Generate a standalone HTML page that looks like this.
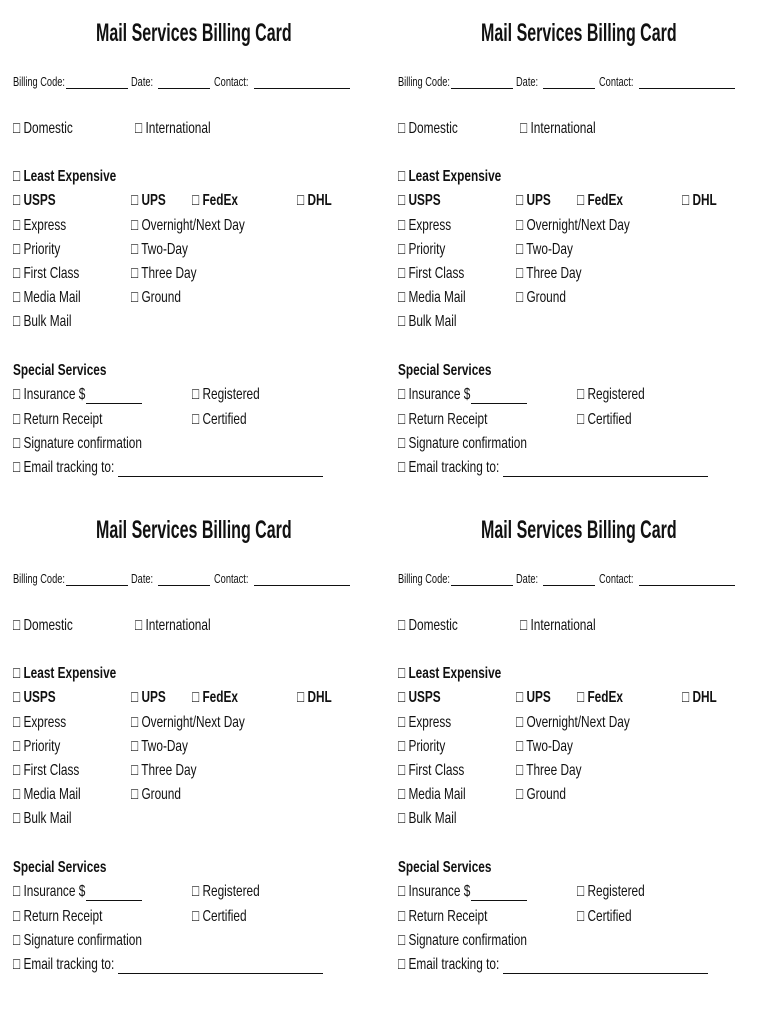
<!DOCTYPE html>
<html><head><meta charset="utf-8"><style>
body{margin:0;background:#fff;width:770px;height:1024px;overflow:hidden;position:relative;font-family:"Liberation Sans",sans-serif;color:#111}
.c{position:absolute;width:385px;height:497px}
.t{position:absolute;white-space:nowrap;font-size:16px;line-height:18px;transform:scaleX(0.74);transform-origin:0 0;margin-top:2px}
.b{font-weight:bold}
.h{font-size:25px;line-height:28px;font-weight:bold;transform:scaleX(0.64);margin-top:0}
.s{font-size:12.5px;line-height:14px;margin-top:1px}
.u{position:absolute;height:0;border-top:1px solid #111}
</style></head><body>
<div class="c" style="left:0;top:0">
<div class="t h" style="left:96px;top:19px">Mail Services Billing Card</div>
<div class="t s" style="left:13px;top:74px">Billing Code:</div><div class="u" style="left:66px;width:62px;top:88px"></div>
<div class="t s" style="left:131px;top:74px">Date:</div><div class="u" style="left:158px;width:52px;top:88px"></div>
<div class="t s" style="left:214px;top:74px">Contact:</div><div class="u" style="left:254px;width:96px;top:88px"></div>
<div class="t" style="left:13px;top:118px">□ Domestic</div>
<div class="t" style="left:135px;top:118px">□ International</div>
<div class="t b" style="left:13px;top:166px">□ Least Expensive</div>
<div class="t b" style="left:13px;top:190px">□ USPS</div>
<div class="t b" style="left:131px;top:190px">□ UPS</div>
<div class="t b" style="left:192px;top:190px">□ FedEx</div>
<div class="t b" style="left:297px;top:190px">□ DHL</div>
<div class="t" style="left:13px;top:215px">□ Express</div>
<div class="t" style="left:131px;top:215px">□ Overnight/Next Day</div>
<div class="t" style="left:13px;top:239px">□ Priority</div>
<div class="t" style="left:131px;top:239px">□ Two-Day</div>
<div class="t" style="left:13px;top:263px">□ First Class</div>
<div class="t" style="left:131px;top:263px">□ Three Day</div>
<div class="t" style="left:13px;top:287px">□ Media Mail</div>
<div class="t" style="left:131px;top:287px">□ Ground</div>
<div class="t" style="left:13px;top:311px">□ Bulk Mail</div>
<div class="t b" style="left:13px;top:360px">Special Services</div>
<div class="t" style="left:13px;top:384px">□ Insurance $</div><div class="u" style="left:86px;width:56px;top:403px"></div>
<div class="t" style="left:192px;top:384px">□ Registered</div>
<div class="t" style="left:13px;top:409px">□ Return Receipt</div>
<div class="t" style="left:192px;top:409px">□ Certified</div>
<div class="t" style="left:13px;top:433px">□ Signature confirmation</div>
<div class="t" style="left:13px;top:457px">□ Email tracking to:</div><div class="u" style="left:118px;width:205px;top:476px"></div>
</div>
<script>
var c=document.querySelector('.c');
[[385,0],[0,497],[385,497]].forEach(function(p){var n=c.cloneNode(true);n.style.left=p[0]+'px';n.style.top=p[1]+'px';document.body.appendChild(n);});
</script>
</body></html>
